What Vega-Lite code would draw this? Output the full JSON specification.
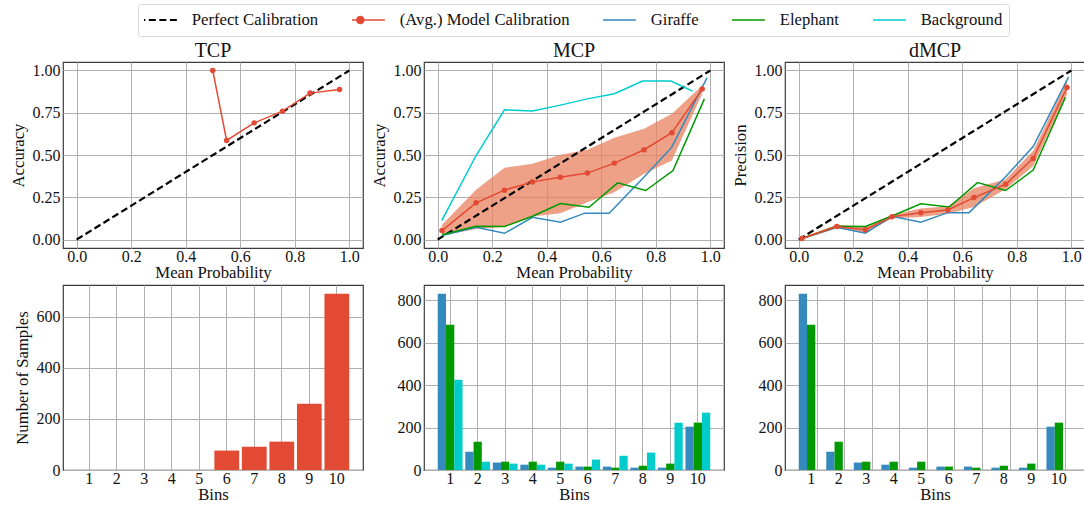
{
  "$schema": "https://vega.github.io/schema/vega-lite/v6.json",
  "padding": {"left": 9, "top": 3, "right": 0, "bottom": 0},
  "config": {
    "font": "Liberation Serif",
    "view": {"stroke": "#3d3d3d", "strokeWidth": 1.2},
    "axis": {"domain": false, "ticks": false, "grid": true, "gridColor": "#b0b0b0", "gridWidth": 1, "labelFont": "Liberation Serif", "labelFontSize": 16, "labelColor": "#111", "titleFont": "Liberation Serif", "titleFontSize": 16.7, "titleFontWeight": "normal", "titleColor": "#111"},
    "axisX": {"labelPadding": 0, "titlePadding": 0},
    "axisY": {"labelPadding": 3, "titlePadding": 5},
    "title": {"font": "Liberation Serif", "fontSize": 20, "fontWeight": "normal", "color": "#111", "offset": 1, "anchor": "middle"},
    "legend": {"orient": "none", "legendX": 75, "legendY": -58, "direction": "horizontal", "title": null, "labelFont": "Liberation Serif", "labelFontSize": 16.7, "labelColor": "#111", "symbolType": "stroke", "symbolSize": 2400, "symbolStrokeWidth": 1.6, "labelOffset": 31, "columnPadding": 33, "padding": 6, "strokeColor": "#d6d6d6", "fillColor": "#ffffff", "cornerRadius": 3, "labelLimit": 0, "clipHeight": 20}
  },
  "datasets": {
    "perfect": [{"x": 0, "y": 0, "series": "Perfect Calibration"}, {"x": 1, "y": 1, "series": "Perfect Calibration"}],
    "tcp_avg": [
      {"x": 0.499, "y": 1.0, "series": "(Avg.) Model Calibration"},
      {"x": 0.550, "y": 0.586, "series": "(Avg.) Model Calibration"},
      {"x": 0.651, "y": 0.690, "series": "(Avg.) Model Calibration"},
      {"x": 0.755, "y": 0.759, "series": "(Avg.) Model Calibration"},
      {"x": 0.856, "y": 0.866, "series": "(Avg.) Model Calibration"},
      {"x": 0.964, "y": 0.888, "series": "(Avg.) Model Calibration"}
    ],
    "mcp_avg": [
      {"x": 0.016, "y": 0.053, "lo": 0.024, "hi": 0.087, "series": "(Avg.) Model Calibration"},
      {"x": 0.141, "y": 0.217, "lo": 0.063, "hi": 0.294, "series": "(Avg.) Model Calibration"},
      {"x": 0.245, "y": 0.292, "lo": 0.075, "hi": 0.424, "series": "(Avg.) Model Calibration"},
      {"x": 0.348, "y": 0.341, "lo": 0.136, "hi": 0.448, "series": "(Avg.) Model Calibration"},
      {"x": 0.450, "y": 0.369, "lo": 0.156, "hi": 0.501, "series": "(Avg.) Model Calibration"},
      {"x": 0.549, "y": 0.393, "lo": 0.221, "hi": 0.531, "series": "(Avg.) Model Calibration"},
      {"x": 0.648, "y": 0.452, "lo": 0.280, "hi": 0.602, "series": "(Avg.) Model Calibration"},
      {"x": 0.757, "y": 0.531, "lo": 0.389, "hi": 0.655, "series": "(Avg.) Model Calibration"},
      {"x": 0.859, "y": 0.632, "lo": 0.467, "hi": 0.744, "series": "(Avg.) Model Calibration"},
      {"x": 0.970, "y": 0.890, "lo": 0.862, "hi": 0.911, "series": "(Avg.) Model Calibration"}
    ],
    "mcp_cls": [
      {"x": 0.015, "y": 0.112, "series": "Background"},
      {"x": 0.141, "y": 0.497, "series": "Background"},
      {"x": 0.245, "y": 0.767, "series": "Background"},
      {"x": 0.348, "y": 0.760, "series": "Background"},
      {"x": 0.450, "y": 0.795, "series": "Background"},
      {"x": 0.549, "y": 0.832, "series": "Background"},
      {"x": 0.648, "y": 0.862, "series": "Background"},
      {"x": 0.752, "y": 0.937, "series": "Background"},
      {"x": 0.855, "y": 0.937, "series": "Background"},
      {"x": 0.935, "y": 0.878, "series": "Background"},
      {"x": 0.016, "y": 0.024, "series": "Giraffe"},
      {"x": 0.141, "y": 0.073, "series": "Giraffe"},
      {"x": 0.245, "y": 0.037, "series": "Giraffe"},
      {"x": 0.348, "y": 0.132, "series": "Giraffe"},
      {"x": 0.450, "y": 0.103, "series": "Giraffe"},
      {"x": 0.540, "y": 0.156, "series": "Giraffe"},
      {"x": 0.629, "y": 0.156, "series": "Giraffe"},
      {"x": 0.763, "y": 0.380, "series": "Giraffe"},
      {"x": 0.858, "y": 0.545, "series": "Giraffe"},
      {"x": 0.988, "y": 0.958, "series": "Giraffe"},
      {"x": 0.016, "y": 0.028, "series": "Elephant"},
      {"x": 0.141, "y": 0.079, "series": "Elephant"},
      {"x": 0.245, "y": 0.077, "series": "Elephant"},
      {"x": 0.348, "y": 0.138, "series": "Elephant"},
      {"x": 0.450, "y": 0.213, "series": "Elephant"},
      {"x": 0.555, "y": 0.191, "series": "Elephant"},
      {"x": 0.660, "y": 0.335, "series": "Elephant"},
      {"x": 0.763, "y": 0.290, "series": "Elephant"},
      {"x": 0.863, "y": 0.408, "series": "Elephant"},
      {"x": 0.978, "y": 0.832, "series": "Elephant"}
    ],
    "dmcp_avg": [
      {"x": 0.012, "y": 0.006, "lo": 0.0, "hi": 0.014, "series": "(Avg.) Model Calibration"},
      {"x": 0.140, "y": 0.077, "lo": 0.067, "hi": 0.087, "series": "(Avg.) Model Calibration"},
      {"x": 0.245, "y": 0.058, "lo": 0.040, "hi": 0.076, "series": "(Avg.) Model Calibration"},
      {"x": 0.342, "y": 0.135, "lo": 0.125, "hi": 0.145, "series": "(Avg.) Model Calibration"},
      {"x": 0.448, "y": 0.159, "lo": 0.134, "hi": 0.184, "series": "(Avg.) Model Calibration"},
      {"x": 0.547, "y": 0.175, "lo": 0.153, "hi": 0.197, "series": "(Avg.) Model Calibration"},
      {"x": 0.643, "y": 0.248, "lo": 0.193, "hi": 0.303, "series": "(Avg.) Model Calibration"},
      {"x": 0.759, "y": 0.327, "lo": 0.297, "hi": 0.357, "series": "(Avg.) Model Calibration"},
      {"x": 0.860, "y": 0.480, "lo": 0.435, "hi": 0.525, "series": "(Avg.) Model Calibration"},
      {"x": 0.984, "y": 0.899, "lo": 0.859, "hi": 0.939, "series": "(Avg.) Model Calibration"}
    ],
    "dmcp_cls": [
      {"x": 0.010, "y": 0.004, "series": "Giraffe"},
      {"x": 0.140, "y": 0.073, "series": "Giraffe"},
      {"x": 0.245, "y": 0.038, "series": "Giraffe"},
      {"x": 0.342, "y": 0.137, "series": "Giraffe"},
      {"x": 0.448, "y": 0.103, "series": "Giraffe"},
      {"x": 0.547, "y": 0.159, "series": "Giraffe"},
      {"x": 0.625, "y": 0.159, "series": "Giraffe"},
      {"x": 0.759, "y": 0.371, "series": "Giraffe"},
      {"x": 0.860, "y": 0.550, "series": "Giraffe"},
      {"x": 0.990, "y": 0.962, "series": "Giraffe"},
      {"x": 0.010, "y": 0.004, "series": "Elephant"},
      {"x": 0.140, "y": 0.079, "series": "Elephant"},
      {"x": 0.245, "y": 0.077, "series": "Elephant"},
      {"x": 0.342, "y": 0.139, "series": "Elephant"},
      {"x": 0.448, "y": 0.212, "series": "Elephant"},
      {"x": 0.552, "y": 0.192, "series": "Elephant"},
      {"x": 0.656, "y": 0.337, "series": "Elephant"},
      {"x": 0.759, "y": 0.290, "series": "Elephant"},
      {"x": 0.860, "y": 0.411, "series": "Elephant"},
      {"x": 0.978, "y": 0.841, "series": "Elephant"}
    ],
    "tcp_bins": [
      {"bin": 1, "count": 0}, {"bin": 2, "count": 0}, {"bin": 3, "count": 0}, {"bin": 4, "count": 0}, {"bin": 5, "count": 0},
      {"bin": 6, "count": 76}, {"bin": 7, "count": 91}, {"bin": 8, "count": 111}, {"bin": 9, "count": 259}, {"bin": 10, "count": 690}
    ],
    "mcp_bins": [
      {"bin": 1, "cls": "Giraffe", "count": 830}, {"bin": 1, "cls": "Elephant", "count": 684}, {"bin": 1, "cls": "Background", "count": 425},
      {"bin": 2, "cls": "Giraffe", "count": 86}, {"bin": 2, "cls": "Elephant", "count": 133}, {"bin": 2, "cls": "Background", "count": 39},
      {"bin": 3, "cls": "Giraffe", "count": 35}, {"bin": 3, "cls": "Elephant", "count": 39}, {"bin": 3, "cls": "Background", "count": 30},
      {"bin": 4, "cls": "Giraffe", "count": 25}, {"bin": 4, "cls": "Elephant", "count": 39}, {"bin": 4, "cls": "Background", "count": 25},
      {"bin": 5, "cls": "Giraffe", "count": 11}, {"bin": 5, "cls": "Elephant", "count": 39}, {"bin": 5, "cls": "Background", "count": 30},
      {"bin": 6, "cls": "Giraffe", "count": 16}, {"bin": 6, "cls": "Elephant", "count": 16}, {"bin": 6, "cls": "Background", "count": 49},
      {"bin": 7, "cls": "Giraffe", "count": 16}, {"bin": 7, "cls": "Elephant", "count": 11}, {"bin": 7, "cls": "Background", "count": 67},
      {"bin": 8, "cls": "Giraffe", "count": 11}, {"bin": 8, "cls": "Elephant", "count": 20}, {"bin": 8, "cls": "Background", "count": 82},
      {"bin": 9, "cls": "Giraffe", "count": 11}, {"bin": 9, "cls": "Elephant", "count": 30}, {"bin": 9, "cls": "Background", "count": 223},
      {"bin": 10, "cls": "Giraffe", "count": 204}, {"bin": 10, "cls": "Elephant", "count": 223}, {"bin": 10, "cls": "Background", "count": 270}
    ],
    "dmcp_bins": [
      {"bin": 1, "cls": "Giraffe", "count": 830}, {"bin": 1, "cls": "Elephant", "count": 684},
      {"bin": 2, "cls": "Giraffe", "count": 86}, {"bin": 2, "cls": "Elephant", "count": 133},
      {"bin": 3, "cls": "Giraffe", "count": 35}, {"bin": 3, "cls": "Elephant", "count": 39},
      {"bin": 4, "cls": "Giraffe", "count": 25}, {"bin": 4, "cls": "Elephant", "count": 39},
      {"bin": 5, "cls": "Giraffe", "count": 11}, {"bin": 5, "cls": "Elephant", "count": 39},
      {"bin": 6, "cls": "Giraffe", "count": 16}, {"bin": 6, "cls": "Elephant", "count": 16},
      {"bin": 7, "cls": "Giraffe", "count": 16}, {"bin": 7, "cls": "Elephant", "count": 11},
      {"bin": 8, "cls": "Giraffe", "count": 11}, {"bin": 8, "cls": "Elephant", "count": 20},
      {"bin": 9, "cls": "Giraffe", "count": 11}, {"bin": 9, "cls": "Elephant", "count": 30},
      {"bin": 10, "cls": "Giraffe", "count": 204}, {"bin": 10, "cls": "Elephant", "count": 223}
    ]
  },
  "columns": 3,
  "spacing": {"row": 37, "column": 61},
  "bounds": "flush",
  "concat": [
    {
      "width": 300, "height": 186, "title": "TCP",
      "encoding": {
        "x": {"field": "x", "type": "quantitative", "scale": {"domain": [-0.05, 1.05], "nice": false, "zero": false}, "axis": {"values": [0, 0.2, 0.4, 0.6, 0.8, 1], "format": ".1f", "title": "Mean Probability"}},
        "y": {"field": "y", "type": "quantitative", "scale": {"domain": [-0.05, 1.05], "nice": false, "zero": false}, "axis": {"values": [0, 0.25, 0.5, 0.75, 1], "format": ".2f", "title": "Accuracy"}}
      },
      "layer": [
        {"data": {"name": "perfect"}, "mark": {"type": "line", "strokeDash": [7, 3.5], "strokeWidth": 2.2},
         "encoding": {"color": {"field": "series", "type": "nominal", "scale": {"domain": ["Perfect Calibration", "(Avg.) Model Calibration", "Giraffe", "Elephant", "Background"], "range": ["#000000", "#E24A33", "#348ABD", "#009900", "#00CCCC"]}, "legend": {"encode": {"symbols": {"update": {"shape": {"signal": "datum.value === '(Avg.) Model Calibration' ? 'M-1,0L1,0M0.14,0A0.14,0.14,0,1,1,-0.14,0A0.14,0.14,0,1,1,0.14,0' : 'stroke'"}, "fill": {"signal": "datum.value === '(Avg.) Model Calibration' ? '#E24A33' : 'transparent'"}, "strokeDash": {"signal": "datum.value === 'Perfect Calibration' ? [7, 3.5] : [1, 0]"}, "strokeWidth": {"signal": "datum.value === 'Perfect Calibration' ? 2.2 : 1.6"}}}}}}}},
        {"data": {"name": "tcp_avg"}, "mark": {"type": "line", "strokeWidth": 1.5, "point": {"filled": true, "size": 30}},
         "encoding": {"color": {"field": "series", "type": "nominal"}}}
      ]
    },
    {
      "width": 300, "height": 186, "title": "MCP",
      "encoding": {
        "x": {"field": "x", "type": "quantitative", "scale": {"domain": [-0.05, 1.05], "nice": false, "zero": false}, "axis": {"values": [0, 0.2, 0.4, 0.6, 0.8, 1], "format": ".1f", "title": "Mean Probability"}},
        "y": {"field": "y", "type": "quantitative", "scale": {"domain": [-0.05, 1.05], "nice": false, "zero": false}, "axis": {"values": [0, 0.25, 0.5, 0.75, 1], "format": ".2f", "title": "Accuracy"}}
      },
      "layer": [
        {"data": {"name": "mcp_avg"}, "mark": {"type": "area", "color": "#E8815F", "opacity": 0.75},
         "encoding": {"y": {"field": "lo", "type": "quantitative"}, "y2": {"field": "hi"}}},
        {"data": {"name": "perfect"}, "mark": {"type": "line", "strokeDash": [7, 3.5], "strokeWidth": 2.2},
         "encoding": {"color": {"field": "series", "type": "nominal"}}},
        {"data": {"name": "mcp_cls"}, "mark": {"type": "line", "strokeWidth": 1.5},
         "encoding": {"color": {"field": "series", "type": "nominal"}}},
        {"data": {"name": "mcp_avg"}, "mark": {"type": "line", "strokeWidth": 1.5, "point": {"filled": true, "size": 30}},
         "encoding": {"color": {"field": "series", "type": "nominal"}}}
      ]
    },
    {
      "width": 300, "height": 186, "title": "dMCP",
      "encoding": {
        "x": {"field": "x", "type": "quantitative", "scale": {"domain": [-0.05, 1.05], "nice": false, "zero": false}, "axis": {"values": [0, 0.2, 0.4, 0.6, 0.8, 1], "format": ".1f", "title": "Mean Probability"}},
        "y": {"field": "y", "type": "quantitative", "scale": {"domain": [-0.05, 1.05], "nice": false, "zero": false}, "axis": {"values": [0, 0.25, 0.5, 0.75, 1], "format": ".2f", "title": "Precision"}}
      },
      "layer": [
        {"data": {"name": "dmcp_avg"}, "mark": {"type": "area", "color": "#E8815F", "opacity": 0.75},
         "encoding": {"y": {"field": "lo", "type": "quantitative"}, "y2": {"field": "hi"}}},
        {"data": {"name": "perfect"}, "mark": {"type": "line", "strokeDash": [7, 3.5], "strokeWidth": 2.2},
         "encoding": {"color": {"field": "series", "type": "nominal"}}},
        {"data": {"name": "dmcp_cls"}, "mark": {"type": "line", "strokeWidth": 1.5},
         "encoding": {"color": {"field": "series", "type": "nominal"}}},
        {"data": {"name": "dmcp_avg"}, "mark": {"type": "line", "strokeWidth": 1.5, "point": {"filled": true, "size": 30}},
         "encoding": {"color": {"field": "series", "type": "nominal"}}}
      ]
    },
    {
      "width": 300, "height": 185,
      "data": {"name": "tcp_bins"},
      "mark": {"type": "bar", "color": "#E24A33"},
      "encoding": {
        "x": {"field": "bin", "type": "ordinal", "scale": {"paddingInner": 0.1, "paddingOuter": 0.5}, "axis": {"labelAngle": 0, "title": "Bins", "bandPosition": 0.5}},
        "y": {"field": "count", "type": "quantitative", "scale": {"domain": [0, 724], "nice": false}, "axis": {"values": [0, 200, 400, 600], "title": "Number of Samples"}}
      }
    },
    {
      "width": 300, "height": 185,
      "data": {"name": "mcp_bins"},
      "mark": {"type": "bar"},
      "encoding": {
        "x": {"field": "bin", "type": "ordinal", "scale": {"paddingInner": 0.1, "paddingOuter": 0.5}, "axis": {"labelAngle": 0, "title": "Bins", "bandPosition": 0.5}},
        "xOffset": {"field": "cls", "type": "nominal", "scale": {"domain": ["Giraffe", "Elephant", "Background"], "paddingInner": 0}},
        "y": {"field": "count", "type": "quantitative", "scale": {"domain": [0, 871], "nice": false}, "axis": {"values": [0, 200, 400, 600, 800], "title": null}},
        "fill": {"field": "cls", "type": "nominal", "scale": {"domain": ["Giraffe", "Elephant", "Background"], "range": ["#348ABD", "#009900", "#00CCCC"]}, "legend": null}
      }
    },
    {
      "width": 300, "height": 185,
      "data": {"name": "dmcp_bins"},
      "mark": {"type": "bar"},
      "encoding": {
        "x": {"field": "bin", "type": "ordinal", "scale": {"paddingInner": 0.1, "paddingOuter": 0.5}, "axis": {"labelAngle": 0, "title": "Bins", "bandPosition": 0.75}},
        "xOffset": {"field": "cls", "type": "nominal", "scale": {"domain": ["Giraffe", "Elephant"], "paddingInner": 0}},
        "y": {"field": "count", "type": "quantitative", "scale": {"domain": [0, 871], "nice": false}, "axis": {"values": [0, 200, 400, 600, 800], "title": null}},
        "fill": {"field": "cls", "type": "nominal", "scale": {"domain": ["Giraffe", "Elephant", "Background"], "range": ["#348ABD", "#009900", "#00CCCC"]}, "legend": null}
      }
    }
  ]
}
